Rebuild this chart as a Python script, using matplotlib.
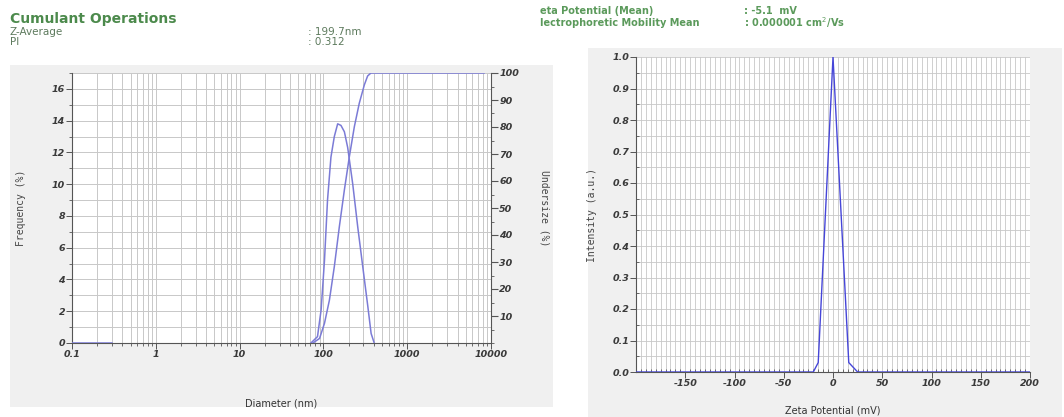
import numpy as np
import matplotlib
matplotlib.use("Agg")
import matplotlib.pyplot as plt
from matplotlib.patches import Rectangle
from matplotlib.ticker import MultipleLocator, FixedLocator, NullFormatter, FixedFormatter

plt.rcParams["axes.unicode_minus"] = False

# ---------------- data ----------------
freq_d = [0.1, 0.3, np.nan, 71, 85, 94, 103, 112, 123, 135, 148, 162, 178, 195, 224, 257, 295, 339, 371, 404]
freq_v = [0.0, 0.0, np.nan, 0.0, 0.4, 2.1, 5.2, 9.0, 11.7, 13.0, 13.8, 13.7, 13.3, 12.3, 10.0, 7.3, 4.8, 2.3, 0.6, 0.0]

cum_d = [75, 90, 103, 118, 135, 155, 178, 204, 234, 268, 308, 337, 369, 8260]
cum_v = [0.0, 1.7, 7.3, 15.9, 28.3, 43.1, 56.7, 69.0, 80.1, 88.8, 95.6, 98.9, 100.0, 100.0]

zeta_x = [-200, -20, -15, 0, 16, 25, 200]
zeta_v = [0.0, 0.0, 0.03, 1.0, 0.03, 0.0, 0.0]

size_ticks = [0.1, 1, 10, 100, 1000, 10000]
size_tick_labels = ["0.1", "1", "10", "100", "1000", "10000"]
freq_ticks = [0, 2, 4, 6, 8, 10, 12, 14, 16]
under_ticks = [10, 20, 30, 40, 50, 60, 70, 80, 90, 100]
zeta_ticks = [-150, -100, -50, 0, 50, 100, 150, 200]
inten_ticks = [0.0, 0.1, 0.2, 0.3, 0.4, 0.5, 0.6, 0.7, 0.8, 0.9, 1.0]

# ---------------- figure ----------------
W, H = 1064, 417
fig = plt.figure(figsize=(W / 100, H / 100), dpi=100)
fig.patch.set_facecolor("white")

def px_rect(x0, y0, x1, y1):
    return [x0 / W, 1 - y1 / H, (x1 - x0) / W, (y1 - y0) / H]

panel_col = "#f0f0f0"
for (x0, y0, x1, y1) in [(10, 65, 553, 407), (588, 48, 1062, 417)]:
    r = px_rect(x0, y0, x1, y1)
    fig.patches.append(Rectangle((r[0], r[1]), r[2], r[3], transform=fig.transFigure,
                                 facecolor=panel_col, edgecolor="none", zorder=-10))

tick_font = dict(fontsize=6.8, fontstyle="italic", color="#3a3a3a", fontweight="bold")
grid_col = "#c8c8c8"

# ---------------- left: size distribution ----------------
ax = fig.add_axes(px_rect(72, 73, 491, 343))
ax.set_facecolor("white")
ax.set_xscale("log")
ax.set_xlim(0.1, 10000)
ax.set_ylim(0, 17)
ax.plot(freq_d, freq_v, color="#7b7bd6", lw=1.1, zorder=3)
ax.xaxis.set_major_locator(FixedLocator(size_ticks))
ax.xaxis.set_major_formatter(FixedFormatter(size_tick_labels))
ax.xaxis.set_minor_locator(matplotlib.ticker.LogLocator(base=10, subs=np.arange(2, 10)))
ax.xaxis.set_minor_formatter(NullFormatter())
ax.yaxis.set_major_locator(FixedLocator(freq_ticks))
ax.yaxis.set_minor_locator(MultipleLocator(1))
ax.grid(True, which="both", color=grid_col, lw=0.7)
ax.set_axisbelow(True)
for s in ["top", "right"]:
    ax.spines[s].set_visible(False)
for s in ["left", "bottom"]:
    ax.spines[s].set_color("#555555")
    ax.spines[s].set_linewidth(0.8)
ax.tick_params(axis="both", which="major", direction="out", length=4, width=0.7, color="#555555", pad=1)
ax.tick_params(axis="both", which="minor", direction="out", length=2, width=0.6, color="#555555")
for lab in ax.get_xticklabels() + ax.get_yticklabels():
    lab.set(**tick_font)
ax.set_xlabel("Diameter (nm)", fontsize=7, color="#333333")
ax.xaxis.set_label_coords(0.5, -0.205)
ax.set_ylabel("Frequency (%)", fontsize=7, color="#444444", family="DejaVu Sans Mono")
ax.yaxis.set_label_coords(-0.11, 0.5)

ax2 = ax.twinx()
ax2.set_ylim(0, 100)
ax2.plot(cum_d, cum_v, color="#7b7bd6", lw=1.1, zorder=3)
ax2.yaxis.set_major_locator(FixedLocator(under_ticks))
ax2.yaxis.set_minor_locator(MultipleLocator(5))
for s in ["top", "left", "bottom"]:
    ax2.spines[s].set_visible(False)
ax2.spines["right"].set_color("#555555")
ax2.spines["right"].set_linewidth(0.8)
ax2.tick_params(axis="y", which="major", direction="out", length=5, width=0.8, color="#555555", pad=1)
ax2.tick_params(axis="y", which="minor", direction="out", length=2, width=0.6, color="#555555")
for lab in ax2.get_yticklabels():
    lab.set(**tick_font)
ax2.set_ylabel("Undersize (%)", fontsize=7, color="#444444", family="DejaVu Sans Mono", rotation=270)
ax2.yaxis.set_label_coords(1.14, 0.5)

# ---------------- right: zeta potential ----------------
az = fig.add_axes(px_rect(636, 57, 1030, 372))
az.set_facecolor("white")
az.set_xlim(-200, 200)
az.set_ylim(0, 1.0)
az.plot(zeta_x, zeta_v, color="#4646d8", lw=1.0, zorder=3)
az.xaxis.set_major_locator(FixedLocator(zeta_ticks))
az.xaxis.set_minor_locator(MultipleLocator(5))
az.yaxis.set_major_locator(FixedLocator(inten_ticks))
az.yaxis.set_major_formatter(FixedFormatter(["%.1f" % v for v in inten_ticks]))
az.yaxis.set_minor_locator(MultipleLocator(0.05))
az.grid(True, which="both", color=grid_col, lw=0.6)
az.set_axisbelow(True)
for s in ["top", "right"]:
    az.spines[s].set_visible(False)
for s in ["left", "bottom"]:
    az.spines[s].set_color("#555555")
    az.spines[s].set_linewidth(0.8)
az.tick_params(axis="both", which="major", direction="out", length=4, width=0.7, color="#555555", pad=1)
az.tick_params(axis="both", which="minor", direction="in", length=2.5, width=0.6, color="#555555")
for lab in az.get_xticklabels() + az.get_yticklabels():
    lab.set(**tick_font)
az.set_xlabel("Zeta Potential (mV)", fontsize=7, color="#333333")
az.xaxis.set_label_coords(0.5, -0.105)
az.set_ylabel("Intensity (a.u.)", fontsize=7, color="#444444", family="DejaVu Sans Mono")
az.yaxis.set_label_coords(-0.098, 0.5)

# ---------------- header texts ----------------
def ftext(x, y, s, **kw):
    fig.text(x / W, 1 - y / H, s, va="center", ha="left", **kw)

ftext(10, 19, "Cumulant Operations", fontsize=10, fontweight="bold", color="#4c8a4c")
ftext(10, 32, "Z-Average", fontsize=7.5, color="#5d7a5d")
ftext(10, 42, "PI", fontsize=7.5, color="#5d7a5d")
ftext(308, 32, ": 199.7nm", fontsize=7.5, color="#5d7a5d")
ftext(308, 42, ": 0.312", fontsize=7.5, color="#5d7a5d")

ftext(540, 11, "eta Potential (Mean)", fontsize=7, fontweight="bold", color="#5b9a5b")
ftext(540, 23, "lectrophoretic Mobility Mean", fontsize=7, fontweight="bold", color="#5b9a5b")
ftext(744, 11, ": -5.1  mV", fontsize=7, fontweight="bold", color="#5b9a5b")
ftext(744, 23, ": 0.000001 cm$^{2}$/Vs", fontsize=7, fontweight="bold", color="#5b9a5b")

fig.savefig("out.png", dpi=100)
